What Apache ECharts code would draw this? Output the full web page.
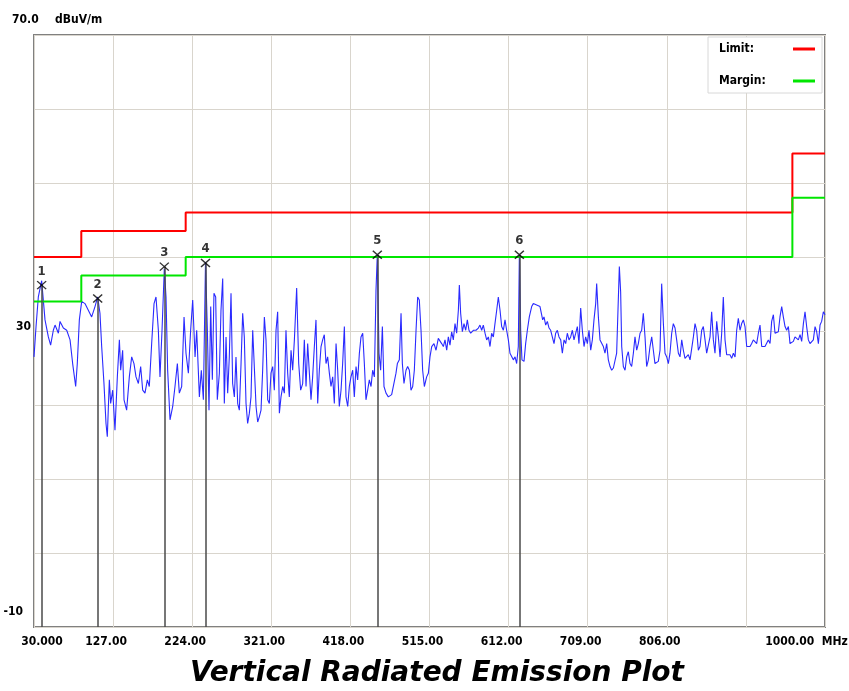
<!DOCTYPE html>
<html>
<head>
<meta charset="utf-8">
<title>Vertical Radiated Emission Plot</title>
<script src="https://cdn.jsdelivr.net/npm/echarts@6/dist/echarts.min.js"></script>
<style>
    html, body {margin: 0; padding: 0; background: #fff;}
    #main {width: 849px; height: 691px;}
</style>
</head>
<body>
<div id="main"></div>
<script>
    // x tick labels (MHz), one per grid line 30 + 97 * k
    var xLabels = ['30.000', '127.00', '224.00', '321.00', '418.00', '515.00', '612.00', '709.00', '806.00', '', '1000.00  MHz'];

    // limit line (dBuV/m) and margin line
    var limitFreq = [30, 88, 88, 216, 216, 960, 960, 1000];
    var limitLevel = [40, 40, 43.5, 43.5, 46, 46, 54, 54];
    var marginLevel = [34, 34, 37.5, 37.5, 40, 40, 48, 48];

    // marked peaks
    var markId = ['1', '2', '3', '4', '5', '6'];
    var markFreq = [39.4, 108.1, 189.8, 240.3, 451.0, 625.2];
    var markLevel = [36.2, 34.4, 38.7, 39.2, 40.3, 40.3];

    // measured trace
    var traceFreq = [
        30.0, 32.5, 35.3, 39.4, 43.5, 47.6, 50.4, 53.7, 55.8, 59.9, 61.9, 66.0, 70.1, 74.2, 77.4, 81.1, 83.1, 85.6, 88.5, 92.5,
        96.6, 100.7, 104.8, 108.1, 110.9, 113.0, 115.8, 118.3, 119.9, 122.4, 124.0, 126.5, 129.3, 132.2, 134.7, 136.3, 138.7, 140.4, 143.6, 146.9,
        149.8, 152.6, 155.1, 158.0, 160.8, 163.3, 166.1, 169.0, 171.4, 174.3, 177.2, 179.6, 182.5, 184.5, 187.0, 189.8, 191.9, 193.9, 196.8, 200.1,
        202.9, 205.8, 208.2, 211.1, 214.0, 216.4, 219.3, 222.1, 224.6, 227.5, 229.5, 232.8, 235.2, 237.7, 240.3, 242.6, 244.6, 246.7, 248.7, 250.7,
        252.8, 254.8, 257.3, 259.3, 261.4, 263.4, 265.5, 267.5, 269.5, 271.6, 273.6, 275.7, 277.7, 279.8, 281.8, 283.9, 285.9, 287.9, 290.0, 292.0,
        294.1, 296.1, 298.2, 300.2, 302.3, 304.3, 306.3, 308.4, 310.4, 312.5, 314.5, 316.6, 318.6, 320.6, 322.7, 324.7, 326.8, 328.8, 330.9, 332.9,
        335.0, 337.0, 339.0, 341.1, 343.1, 345.2, 347.2, 349.3, 352.1, 354.6, 357.0, 359.5, 361.5, 363.6, 365.6, 367.7, 369.7, 371.7, 373.8, 375.8,
        377.9, 379.9, 382.0, 384.0, 386.0, 388.1, 390.1, 392.2, 394.2, 396.3, 398.3, 400.4, 402.4, 404.4, 406.5, 408.5, 410.6, 412.6, 414.7, 416.7,
        418.7, 420.8, 422.8, 424.9, 426.9, 429.0, 431.0, 433.1, 435.1, 437.1, 439.2, 441.2, 443.3, 445.3, 447.4, 449.4, 451.0, 453.1, 455.1, 457.2,
        459.2, 461.7, 464.5, 468.6, 470.6, 473.9, 475.6, 478.0, 480.1, 481.7, 483.7, 486.2, 488.2, 490.3, 492.3, 494.4, 496.4, 498.5, 500.5, 502.5,
        504.6, 506.6, 508.7, 511.5, 513.6, 515.6, 517.7, 520.5, 523.0, 525.8, 527.9, 529.9, 532.0, 534.0, 536.1, 538.1, 540.1, 542.2, 544.2, 546.3,
        548.3, 550.4, 551.6, 553.2, 555.3, 557.3, 559.4, 561.4, 563.4, 565.5, 568.8, 572.0, 574.9, 576.9, 579.0, 581.0, 583.1, 585.1, 587.2, 589.2,
        591.2, 593.3, 595.3, 597.4, 599.4, 601.5, 603.5, 605.6, 607.6, 609.6, 611.7, 613.7, 615.8, 617.8, 619.9, 621.9, 623.9, 625.2, 626.8, 628.4,
        630.9, 632.9, 635.0, 637.4, 640.3, 642.3, 646.4, 650.5, 653.8, 655.4, 657.5, 659.5, 661.6, 663.6, 665.6, 667.7, 669.7, 671.8, 673.8, 675.9,
        677.9, 680.0, 682.0, 684.0, 686.1, 688.1, 690.2, 692.2, 694.3, 696.3, 698.3, 700.4, 702.4, 704.5, 706.5, 708.6, 710.6, 712.7, 714.7, 716.7,
        718.8, 720.0, 722.1, 724.1, 728.2, 730.2, 732.3, 734.3, 736.4, 738.4, 740.5, 742.5, 744.5, 746.6, 747.8, 749.4, 750.7, 752.7, 754.8, 756.8,
        758.8, 760.9, 762.9, 765.0, 767.0, 769.1, 771.1, 773.2, 775.2, 777.2, 779.3, 781.3, 783.4, 785.4, 787.5, 789.5, 791.5, 793.6, 795.6, 797.7,
        799.7, 801.8, 803.8, 805.9, 807.9, 809.9, 812.0, 814.0, 816.1, 818.1, 820.2, 822.2, 824.3, 826.3, 828.3, 830.4, 832.4, 834.5, 836.5, 838.6,
        840.6, 842.6, 844.7, 846.7, 848.8, 850.8, 852.9, 854.9, 856.9, 859.0, 861.0, 863.1, 865.1, 867.2, 869.2, 871.3, 873.3, 875.3, 877.4, 879.4,
        881.5, 883.5, 885.6, 887.6, 889.7, 891.7, 893.7, 895.8, 897.8, 899.9, 901.9, 904.0, 906.0, 908.1, 910.1, 912.1, 914.2, 916.2, 918.3, 920.3,
        922.4, 924.4, 926.4, 928.5, 930.5, 932.6, 934.6, 936.7, 938.7, 940.8, 942.8, 944.8, 946.9, 948.9, 951.0, 953.0, 955.1, 957.1, 959.2, 961.2,
        963.2, 965.3, 967.3, 969.4, 971.4, 973.5, 975.5, 977.5, 979.6, 981.6, 983.7, 985.7, 987.8, 989.8, 991.9, 993.9, 995.9, 998.0, 1000.0
    ];
    var traceLevel = [
        26.5, 30.6, 34.6, 36.8, 31.5, 29.2, 28.1, 30.1, 30.8, 29.7, 31.3, 30.4, 30.1, 28.8, 25.6, 22.5, 25.6, 31.5, 34.0, 33.7,
        32.8, 31.9, 33.3, 34.6, 32.4, 27.9, 22.9, 17.5, 15.7, 23.4, 20.2, 22.0, 16.6, 23.8, 28.8, 24.7, 27.4, 20.7, 19.3, 23.8,
        26.5, 25.6, 23.8, 22.9, 25.2, 22.0, 21.6, 23.4, 22.5, 28.3, 33.7, 34.6, 30.1, 23.8, 30.1, 38.4, 34.6, 24.7, 18.0, 19.8,
        22.5, 25.6, 21.6, 22.5, 31.9, 27.0, 24.3, 30.1, 34.2, 26.5, 30.1, 21.1, 24.7, 20.7, 39.3, 30.1, 19.3, 33.3, 23.4, 35.1,
        34.6, 20.7, 24.3, 32.8, 37.1, 20.2, 29.2, 21.6, 26.5, 35.1, 22.9, 21.1, 26.5, 20.2, 19.3, 25.6, 32.4, 29.2, 20.2, 17.5,
        18.9, 21.1, 30.1, 30.1, 19.8, 17.7, 18.4, 19.3, 24.7, 31.9, 28.8, 20.7, 20.2, 24.3, 25.2, 22.0, 30.1, 32.6, 18.9, 21.1,
        22.5, 21.6, 30.1, 24.3, 21.1, 27.4, 24.7, 28.8, 35.8, 25.6, 22.0, 22.9, 28.8, 22.5, 28.3, 24.3, 20.7, 23.8, 27.9, 31.5,
        20.2, 24.7, 27.9, 28.8, 29.5, 25.6, 26.5, 24.3, 22.5, 23.8, 20.2, 28.3, 24.7, 19.8, 22.0, 25.6, 30.6, 21.1, 19.8, 22.5,
        23.8, 24.7, 21.1, 25.2, 23.4, 27.0, 29.2, 29.7, 25.6, 20.7, 22.0, 23.4, 22.5, 24.7, 23.8, 35.5, 40.3, 27.0, 24.7, 30.6,
        22.5, 21.6, 21.1, 21.4, 21.6, 24.3, 25.6, 26.1, 32.4, 25.6, 22.9, 24.7, 25.2, 24.7, 22.0, 22.5, 24.7, 30.1, 34.6, 34.2,
        30.1, 24.7, 22.5, 23.8, 24.3, 26.5, 27.9, 28.3, 27.4, 29.0, 28.8, 28.3, 27.9, 28.8, 27.4, 29.2, 28.1, 29.9, 28.8, 31.0,
        29.7, 32.8, 36.2, 32.4, 29.9, 31.0, 30.1, 31.5, 30.1, 29.7, 30.1, 30.1, 30.4, 30.8, 30.1, 30.8, 29.7, 28.8, 29.2, 27.9,
        29.7, 29.2, 31.0, 32.8, 34.6, 32.8, 30.6, 30.1, 31.5, 30.1, 28.8, 27.0, 26.8, 26.1, 26.5, 25.6, 27.9, 40.3, 30.1, 26.1,
        25.9, 28.3, 30.1, 31.9, 33.3, 33.7, 33.5, 33.3, 31.5, 31.9, 30.8, 31.3, 30.4, 30.1, 29.2, 28.3, 29.7, 30.1, 29.2, 28.8,
        27.0, 28.8, 28.3, 29.7, 28.8, 29.2, 30.1, 28.8, 29.7, 30.6, 28.3, 33.1, 30.1, 27.9, 29.2, 28.3, 30.1, 27.4, 28.8, 31.5,
        33.7, 36.4, 31.9, 28.8, 27.9, 27.0, 28.3, 26.1, 25.2, 24.7, 25.0, 25.2, 27.0, 26.8, 38.7, 35.3, 27.9, 25.2, 24.7, 26.5,
        27.2, 25.6, 25.2, 27.0, 29.2, 27.4, 28.3, 29.7, 30.1, 32.4, 29.2, 25.2, 26.1, 27.9, 29.2, 27.4, 25.6, 25.4, 25.9, 27.4,
        36.4, 31.0, 27.0, 26.5, 25.6, 27.0, 29.7, 31.0, 30.4, 28.8, 27.0, 26.5, 28.8, 27.4, 26.3, 26.5, 26.8, 26.1, 26.3, 29.2,
        31.0, 30.1, 27.4, 27.9, 30.1, 30.6, 28.8, 27.0, 26.8, 29.2, 32.6, 28.8, 27.0, 31.3, 29.2, 26.5, 29.7, 34.6, 28.8, 26.8,
        27.0, 26.8, 26.3, 27.0, 26.5, 30.1, 31.7, 30.1, 31.0, 31.5, 30.6, 27.9, 28.1, 27.9, 28.3, 28.8, 29.0, 28.3, 29.7, 30.8,
        27.9, 27.7, 27.9, 28.1, 28.8, 28.3, 31.3, 32.2, 29.7, 29.5, 29.9, 31.9, 33.3, 31.9, 30.6, 30.1, 30.6, 28.3, 28.1, 28.6,
        29.2, 29.0, 28.8, 29.5, 28.6, 31.0, 32.6, 30.6, 28.8, 28.3, 28.3, 28.8, 30.6, 29.9, 28.3, 30.8, 31.3, 32.6, 32.2
    ];

    var chart = echarts.init(document.getElementById('main'));
    window.addEventListener('resize', function () {
        chart.resize();
    });

    var narrow = '"DejaVu Sans Condensed", "Liberation Sans Narrow", sans-serif';
    var lbl = {fontFamily: narrow, fontSize: 12, fontWeight: 'bold', color: '#000'};

    function pairs(xs, ys) {
        return xs.map(function (x, i) {
            return [x, ys[i]];
        });
    }

    function withPad(pad, extra) {
        return Object.assign({}, lbl, {padding: pad}, extra || {});
    }

    chart.setOption({
        animation: false,
        backgroundColor: '#fff',
        title: {
            text: 'Vertical Radiated Emission Plot',
            left: 185, top: 655,
            textStyle: {fontFamily: '"DejaVu Sans", sans-serif', fontStyle: 'italic', fontWeight: 'bold', fontSize: 28, color: '#000'}
        },
        legend: {
            data: ['Limit', 'Margin'],
            orient: 'vertical', align: 'right',
            left: 708, top: 37,
            padding: [6, 7, 6, 11],
            itemGap: 20, itemWidth: 22, itemHeight: 3,
            icon: 'rect',
            backgroundColor: '#fff', borderColor: '#d8d8d8', borderWidth: 1,
            formatter: '{a|{name}:}',
            textStyle: Object.assign({}, lbl, {rich: {a: Object.assign({}, lbl, {width: 69, align: 'left'})}})
        },
        grid: {
            left: 34, right: 24, top: 35, bottom: 64, outerBoundsMode: 'none',
            show: true, borderColor: '#808080', borderWidth: 2, backgroundColor: '#fff'
        },
        xAxis: {
            type: 'value', min: 30, max: 1000, interval: 97,
            axisLine: {show: false}, axisTick: {show: false},
            splitLine: {lineStyle: {color: '#d9d5cd', width: 1}},
            axisLabel: Object.assign({}, lbl, {
                margin: 9,
                formatter: function (v) {
                    var i = Math.round((v - 30) / 97);
                    var t = xLabels[i];
                    if (!t) return '';
                    if (i === 0) return '{l|' + t + '}';
                    if (i === xLabels.length - 1) return '{r|' + t + '}';
                    return '{c|' + t + '}';
                },
                rich: {
                    l: withPad([0, 0, 0, 16]),
                    c: withPad([0, 14, 0, 0]),
                    r: withPad([0, 37, 0, 0])
                }
            })
        },
        yAxis: {
            type: 'value', min: -10, max: 70, interval: 10,
            name: 'dBuV/m', nameLocation: 'end', nameGap: 15,
            nameTextStyle: Object.assign({}, lbl, {align: 'left', verticalAlign: 'middle', padding: [0, 0, 0, 21]}),
            axisLine: {show: false}, axisTick: {show: false},
            splitLine: {lineStyle: {color: '#d9d5cd', width: 1}},
            axisLabel: Object.assign({}, lbl, {
                margin: 3,
                formatter: function (v) {
                    if (v === 70) return '{t|70.0}';
                    if (v === 30) return '{m|30}';
                    if (v === -10) return '{b|-10}';
                    return '';
                },
                rich: {
                    t: withPad([0, 0, 30, 0], {width: 19, align: 'left'}),
                    m: withPad([0, 0, 9, 0]),
                    b: withPad([0, 8, 30, 0])
                }
            })
        },
        series: [
            {
                name: 'Trace', type: 'line', showSymbol: false, symbol: 'none',
                lineStyle: {color: '#2a2aff', width: 1.1},
                data: pairs(traceFreq, traceLevel), z: 3
            },
            {
                name: 'Limit', type: 'line', symbol: 'none', color: '#ff0000',
                lineStyle: {color: '#ff0000', width: 2},
                data: pairs(limitFreq, limitLevel), z: 4
            },
            {
                name: 'Margin', type: 'line', symbol: 'none', color: '#00e600',
                lineStyle: {color: '#00e600', width: 2},
                data: pairs(limitFreq, marginLevel), z: 4
            },
            {
                name: 'Marker', type: 'scatter', z: 5,
                symbol: 'path://M0,0L10,10M10,0L0,10', symbolSize: [9, 8],
                itemStyle: {color: 'none', borderColor: '#000', borderWidth: 1.4},
                label: Object.assign({}, lbl, {
                    show: true, position: 'top', distance: 1, fontSize: 13,
                    formatter: function (p) {
                        return markId[p.dataIndex];
                    }
                }),
                data: pairs(markFreq, markLevel),
                markLine: {
                    silent: true, symbol: ['none', 'none'], label: {show: false},
                    lineStyle: {color: '#4a4a4a', width: 1.5, type: 'solid'},
                    data: markFreq.map(function (f, i) {
                        return [{coord: [f, markLevel[i]]}, {coord: [f, -10]}];
                    })
                }
            }
        ]
    });
</script>
</body>
</html>
